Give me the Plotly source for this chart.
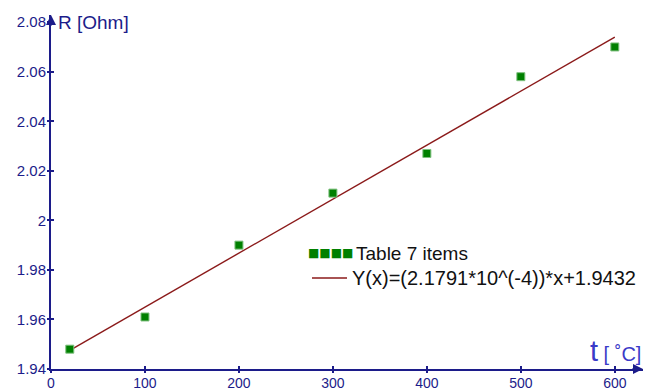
import plotly.graph_objects as go

# data
t_vals = [20, 100, 200, 300, 400, 500, 600]
r_vals = [1.948, 1.961, 1.990, 2.011, 2.027, 2.058, 2.070]
fit_t = [20, 600]
fit_r = [1.94756, 2.07395]
x_ticks = [0, 100, 200, 300, 400, 500, 600]
y_ticks = [1.94, 1.96, 1.98, 2.00, 2.02, 2.04, 2.06, 2.08]
y_tick_text = ["1.94", "1.96", "1.98", "2", "2.02", "2.04", "2.06", "2.08"]

NAVY = "#1c1c8a"
FONT = "Liberation Sans, Arial, sans-serif"

fig = go.Figure()
fig.add_trace(go.Scatter(x=fit_t, y=fit_r, mode="lines",
                         line=dict(color="#8b1a1a", width=1.4),
                         name="Y(x)=(2.1791*10^(-4))*x+1.9432", showlegend=False))
fig.add_trace(go.Scatter(x=t_vals, y=r_vals, mode="markers",
                         marker=dict(symbol="square", size=8, color="#008000",
                                     line=dict(color="#7fc07f", width=1)),
                         name="Table 7 items", showlegend=False))

axis_common = dict(showgrid=False, zeroline=False, showline=True, linecolor=NAVY,
                   linewidth=2, ticks="inside", ticklen=3, tickwidth=2, tickcolor=NAVY,
                   automargin=False)
sec_common = dict(showticklabels=False, showgrid=False, zeroline=False, showline=False,
                  ticks="outside", ticklen=3, tickwidth=2, tickcolor=NAVY)

fig.update_layout(
    width=659, height=391,
    margin=dict(l=51, r=16, t=15, b=22, autoexpand=False),
    plot_bgcolor="white", paper_bgcolor="white",
    xaxis=dict(range=[0, 630], tickvals=x_ticks,
               tickfont=dict(family=FONT, size=14, color=NAVY), **axis_common),
    yaxis=dict(range=[1.94, 2.0829], tickvals=y_ticks, ticktext=y_tick_text,
               tickfont=dict(family=FONT, size=15, color=NAVY), **axis_common),
    xaxis2=dict(range=[0, 630], overlaying="x", anchor="y", tickvals=x_ticks, **sec_common),
    yaxis2=dict(range=[1.94, 2.0829], overlaying="y", anchor="x", tickvals=y_ticks, **sec_common),
    showlegend=False,
)
# invisible trace to activate secondary axes
fig.add_trace(go.Scatter(x=[None], y=[None], xaxis="x2", yaxis="y2", showlegend=False))

# axis arrows
fig.add_annotation(xref="paper", yref="paper", x=1.0, y=0, ax=-12, ay=0,
                   showarrow=True, arrowhead=2, arrowsize=1, arrowwidth=2,
                   arrowcolor=NAVY, text="")
fig.add_annotation(xref="paper", yref="paper", x=0, y=1.0, ax=0, ay=12,
                   showarrow=True, arrowhead=2, arrowsize=1, arrowwidth=2,
                   arrowcolor=NAVY, text="")

# axis titles
fig.add_annotation(xref="paper", yref="paper", x=0.008, y=1.0, xanchor="left", yanchor="middle",
                   yshift=-7, showarrow=False, text="R [Ohm]",
                   font=dict(family=FONT, size=19, color=NAVY))
fig.add_annotation(xref="paper", yref="paper", x=1.0, y=0, xanchor="right", yanchor="bottom",
                   yshift=0, showarrow=False,
                   text="<span style='font-size:29px'>t</span> [ ˚C]",
                   font=dict(family=FONT, size=20, color="#3a3ac8"))

# legend (drawn)
fig.add_annotation(xref="paper", yref="paper", x=(306 - 51) / 592, y=(369 - 253) / 354,
                   xanchor="left", yanchor="middle", showarrow=False,
                   text="■■■■", font=dict(family="DejaVu Sans", size=12, color="#008000"))
fig.add_annotation(xref="paper", yref="paper", x=(354 - 51) / 592, y=(369 - 253) / 354,
                   xanchor="left", yanchor="middle", showarrow=False,
                   text="Table 7 items", font=dict(family=FONT, size=19, color="#111111"))
fig.add_shape(type="line", xref="paper", yref="paper",
              x0=(312 - 51) / 592, x1=(347 - 51) / 592,
              y0=(369 - 278) / 354, y1=(369 - 278) / 354,
              line=dict(color="#8b1a1a", width=1.4))
fig.add_annotation(xref="paper", yref="paper", x=(350 - 51) / 592, y=(369 - 278) / 354,
                   xanchor="left", yanchor="middle", showarrow=False,
                   text="Y(x)=(2.1791*10^(-4))*x+1.9432",
                   font=dict(family=FONT, size=20, color="#111111"))

fig.write_html("out.html")
